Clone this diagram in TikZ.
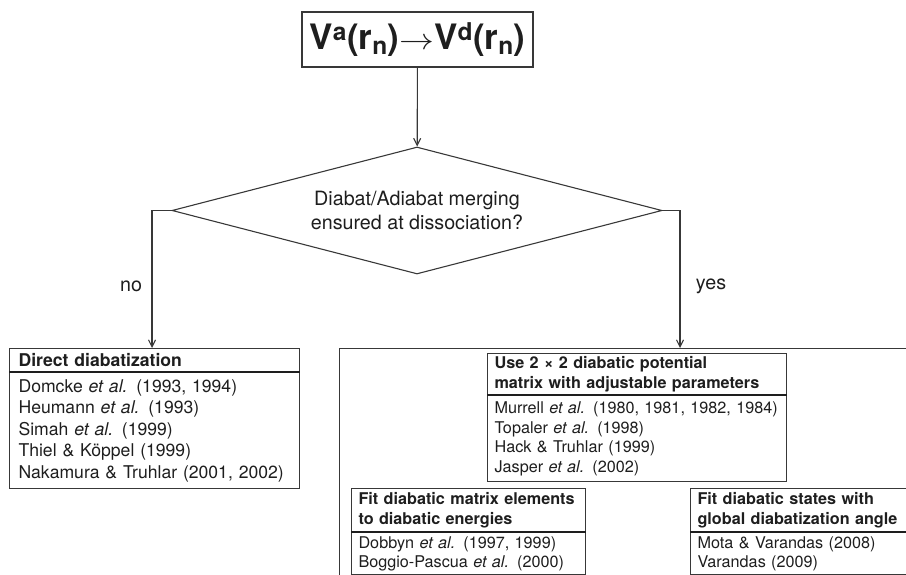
\documentclass[tikz,border=0pt]{standalone}
\usepackage{fontspec}
\setmainfont{TeX Gyre Heros}
\usetikzlibrary{shapes.geometric,arrows.meta}
\definecolor{lc}{HTML}{383838}
\definecolor{tc}{HTML}{1E1E1E}
\tikzset{
  base/.style={draw=lc, line width=1.1pt, text=tc, inner ysep=3pt, align=left, anchor=north west},
  dhead/.style={base, inner xsep=9pt, font=\fontsize{17.6}{21.5}\selectfont\bfseries, text width=272pt, minimum height=23pt},
  dbody/.style={base, inner xsep=9pt, font=\fontsize{17.6}{21.5}\selectfont, text width=272pt, minimum height=116pt},
  rhead/.style={base, inner xsep=7pt, font=\fontsize{16.2}{19.5}\selectfont\bfseries},
  rbody/.style={base, inner xsep=7pt, font=\fontsize{16.2}{19.5}\selectfont},
  sepline/.style={draw=tc, line width=1.7pt},
  arr/.style={draw=lc, line width=1.1pt, -{Straight Barb[length=7pt,width=7pt]}},
  lbl/.style={text=tc, font=\fontsize{19.7}{24}\selectfont, inner sep=0pt},
}
\begin{document}
\begin{tikzpicture}[x=1pt,y=-1pt]
\useasboundingbox (0,0) rectangle (906,575);

% top box
\node[draw=lc, line width=1.1pt, text=tc, minimum width=231pt, minimum height=55pt, inner sep=0pt,
      font=\fontsize{35}{40}\selectfont\bfseries] (top) at (417.5,39.5)
  {V\textsuperscript{a}(r\textsubscript{n})\scalebox{1.4}[1.2]{$\rightarrow$}V\textsuperscript{d}(r\textsubscript{n})};

% decision
\node[diamond, draw=lc, line width=1.1pt, text=tc, aspect=3.86, minimum width=490pt, minimum height=127pt,
      inner sep=0pt, align=center, font=\fontsize{19.7}{24.8}\selectfont] (dia) at (417,210.5)
  {Diabat/Adiabat merging\\ensured at dissociation?};

% direct diabatization box
\node[dhead] (dh) at (9,348) {Direct diabatization};
\node[dbody] (db) at (dh.south west)
  {Domcke \textit{et al.} (1993, 1994)\\
   Heumann \textit{et al.} (1993)\\
   Simah \textit{et al.} (1999)\\
   Thiel \& Köppel (1999)\\
   Nakamura \& Truhlar (2001, 2002)};
\draw[sepline] (dh.south west) -- (dh.south east);

% big container
\node[draw=lc, line width=1.1pt, anchor=north west, minimum width=620pt, minimum height=280pt, inner sep=0pt] (big) at (339,348) {};

% use 2x2 box
\node[rhead, text width=285pt, minimum height=41pt] (uh) at (487,353)
  {Use 2 × 2 diabatic potential\\matrix with adjustable parameters};
\node[rbody, text width=285pt, minimum height=86pt] (ub) at (uh.south west)
  {Murrell \textit{et al.} (1980, 1981, 1982, 1984)\\
   Topaler \textit{et al.} (1998)\\
   Hack \& Truhlar (1999)\\
   Jasper \textit{et al.} (2002)};
\draw[sepline] (uh.south west) -- (uh.south east);

% fit left
\node[rhead, text width=220pt, minimum height=43pt] (fh) at (351,488)
  {Fit diabatic matrix elements\\to diabatic energies};
\node[rbody, text width=220pt, minimum height=42pt] (fb) at (fh.south west)
  {Dobbyn \textit{et al.} (1997, 1999)\\
   Boggio-Pascua \textit{et al.} (2000)};
\draw[sepline] (fh.south west) -- (fh.south east);

% fit right
\node[rhead, text width=206pt, minimum height=43pt] (gh) at (690,488)
  {Fit diabatic states with\\global diabatization angle};
\node[rbody, text width=206pt, minimum height=42pt] (gb) at (gh.south west)
  {Mota \& Varandas (2008)\\
   Varandas (2009)};
\draw[sepline] (gh.south west) -- (gh.south east);

% connectors
\coordinate (noX) at (152,0);
\coordinate (yesX) at (680,0);
\draw[arr] (top) -- (dia);
\draw[arr] (dia.west) -| (noX |- dh.north);
\draw[arr] (dia.east) -| (yesX |- big.north);

\node[lbl] (no) at (131,286) {no};
\node[lbl] (yes) at (711,286) {yes};
\end{tikzpicture}
\end{document}
